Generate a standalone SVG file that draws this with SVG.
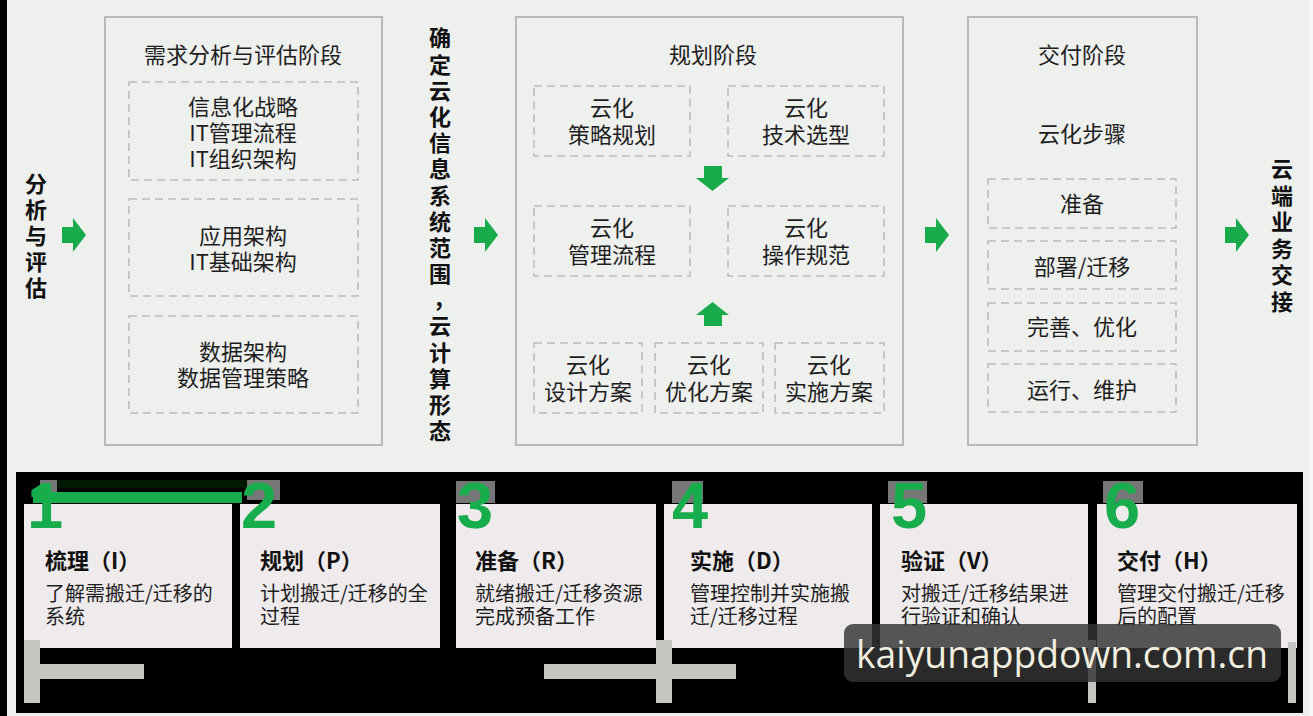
<svg xmlns="http://www.w3.org/2000/svg" width="1313" height="716" viewBox="0 0 1313 716">
<defs>
<style>
.t{font-family:"Noto Sans CJK SC","Noto Sans",sans-serif;fill:#1e1e1e;}
.c{text-anchor:middle;font-size:22px;}
.vt{font-family:"Noto Sans CJK SC","Noto Sans",sans-serif;font-size:22px;font-weight:bold;fill:#111;writing-mode:vertical-rl;}
.stage{fill:#eef0ee;stroke:#b9b9b9;stroke-width:2;}
.dash{fill:none;stroke:#bcbcbc;stroke-width:1.6;stroke-dasharray:8 5;}
.arr{fill:#19ab4b;}
.card{fill:#efebec;}
.ct{font-size:22px;font-weight:bold;fill:#111;}
.cd{font-size:20px;fill:#1e1e1e;}
.dig{font-family:"Liberation Sans",Arial,sans-serif;font-weight:bold;font-size:65px;fill:#17ad4d;text-anchor:middle;}
.gb{fill:#767676;}
.deco{fill:#c4c4c0;}
</style>
</defs>
<rect x="0" y="0" width="1313" height="716" fill="#edf0ed"/>
<rect x="0" y="0" width="7" height="716" fill="#000"/>
<rect x="1310" y="0" width="3" height="716" fill="#f6f7f7"/>

<!-- left label -->
<g id="label-analysis">
<text class="vt" x="36" y="173" style="letter-spacing:3.8px">分析与评估</text>
</g>

<!-- stage 1 -->
<g id="stage-analysis">
<rect class="stage" x="105" y="17" width="277" height="428"/>
<text class="t c" x="243" y="63">需求分析与评估阶段</text>
<rect class="dash" x="129" y="82" width="229" height="98"/>
<text class="t c" x="243" y="115">信息化战略</text>
<text class="t c" x="243" y="141">IT管理流程</text>
<text class="t c" x="243" y="167">IT组织架构</text>
<rect class="dash" x="129" y="199" width="229" height="97"/>
<text class="t c" x="243" y="244">应用架构</text>
<text class="t c" x="243" y="270">IT基础架构</text>
<rect class="dash" x="129" y="316" width="229" height="97"/>
<text class="t c" x="243" y="360">数据架构</text>
<text class="t c" x="243" y="386">数据管理策略</text>
</g>

<!-- middle label -->
<g id="label-scope">
<text class="vt" x="440" y="27" style="letter-spacing:4.2px">确定云化信息系统范围</text>
<text class="t" x="433" y="307" style="font-size:22px;font-weight:bold;fill:#111">，</text>
<text class="vt" x="440" y="315" style="letter-spacing:4.2px">云计算形态</text>
</g>

<!-- stage 2 -->
<g id="stage-planning">
<rect class="stage" x="516" y="17" width="387" height="428"/>
<text class="t c" x="713" y="63">规划阶段</text>
<rect class="dash" x="534" y="86" width="156" height="70"/>
<text class="t c" x="612" y="116">云化</text>
<text class="t c" x="612" y="143">策略规划</text>
<rect class="dash" x="728" y="86" width="156" height="70"/>
<text class="t c" x="806" y="116">云化</text>
<text class="t c" x="806" y="143">技术选型</text>
<rect class="dash" x="534" y="206" width="156" height="70"/>
<text class="t c" x="612" y="236">云化</text>
<text class="t c" x="612" y="263">管理流程</text>
<rect class="dash" x="728" y="206" width="156" height="70"/>
<text class="t c" x="806" y="236">云化</text>
<text class="t c" x="806" y="263">操作规范</text>
<rect class="dash" x="534" y="343" width="108" height="70"/>
<text class="t c" x="588" y="373">云化</text>
<text class="t c" x="588" y="400">设计方案</text>
<rect class="dash" x="655" y="343" width="108" height="70"/>
<text class="t c" x="709" y="373">云化</text>
<text class="t c" x="709" y="400">优化方案</text>
<rect class="dash" x="775" y="343" width="109" height="70"/>
<text class="t c" x="829" y="373">云化</text>
<text class="t c" x="829" y="400">实施方案</text>
</g>

<!-- stage 3 -->
<g id="stage-delivery">
<rect class="stage" x="968" y="17" width="229" height="428"/>
<text class="t c" x="1082" y="63">交付阶段</text>
<text class="t c" x="1082" y="142">云化步骤</text>
<rect class="dash" x="988" y="179" width="188" height="49"/>
<text class="t c" x="1082" y="212">准备</text>
<rect class="dash" x="988" y="241" width="188" height="48"/>
<text class="t c" x="1082" y="275">部署/迁移</text>
<rect class="dash" x="988" y="303" width="188" height="48"/>
<text class="t c" x="1082" y="335">完善、优化</text>
<rect class="dash" x="988" y="364" width="188" height="48"/>
<text class="t c" x="1082" y="398">运行、维护</text>
</g>

<!-- right label -->
<g id="label-handover">
<text class="vt" x="1282" y="158" style="letter-spacing:4.5px">云端业务交接</text>
</g>

<!-- connectors -->
<g id="connectors">
<path class="arr" d="M62,227 H73 V218 L86,235 L73,252 V243 H62 Z"/>
<path class="arr" d="M474,227 H485 V218 L498,235 L485,252 V243 H474 Z"/>
<path class="arr" d="M925,227 H936 V218 L949,235 L936,252 V243 H925 Z"/>
<path class="arr" d="M1225,227 H1236 V218 L1249,235 L1236,252 V243 H1225 Z"/>
<path class="arr" d="M704,166 H722 V178 H729 L712.5,191 L696,178 H704 Z"/>
<path class="arr" d="M712.5,302 L729,315 H722 V326 H704 V315 H696 Z"/>
</g>

<!-- bottom panel -->
<rect x="16" y="472" width="1287" height="241" fill="#000"/>

<g id="card-1">
<rect class="card" x="24" y="504" width="208" height="144"/>
<rect x="53" y="480" width="194" height="8" fill="#021a04"/>
<rect class="gb" x="40" y="480" width="17" height="12"/>
<rect x="33" y="492" width="209" height="11" fill="#17ad4d"/>
<text class="dig" x="45" y="528">1</text>
<text class="t ct" x="45" y="569">梳理（I）</text>
<text class="t cd" x="45" y="601">了解需搬迁/迁移的</text>
<text class="t cd" x="45" y="624">系统</text>
</g>
<g id="card-2">
<rect class="card" x="240" y="504" width="200" height="144"/>
<rect class="gb" x="247" y="480" width="33" height="20"/>
<text class="dig" x="259" y="528">2</text>
<text class="t ct" x="260" y="569">规划（P）</text>
<text class="t cd" x="260" y="601">计划搬迁/迁移的全</text>
<text class="t cd" x="260" y="624">过程</text>
</g>
<g id="card-3">
<rect class="card" x="456" y="504" width="200" height="144"/>
<rect class="gb" x="456" y="481" width="39" height="22"/>
<text class="dig" x="475" y="528">3</text>
<text class="t ct" x="475" y="569">准备（R）</text>
<text class="t cd" x="475" y="601">就绪搬迁/迁移资源</text>
<text class="t cd" x="475" y="624">完成预备工作</text>
</g>
<g id="card-4">
<rect class="card" x="664" y="504" width="208" height="144"/>
<rect class="gb" x="672" y="481" width="31" height="22"/>
<text class="dig" x="690" y="528">4</text>
<text class="t ct" x="690" y="569">实施（D）</text>
<text class="t cd" x="690" y="601">管理控制并实施搬</text>
<text class="t cd" x="690" y="624">迁/迁移过程</text>
</g>
<g id="card-5">
<rect class="card" x="880" y="504" width="208" height="144"/>
<rect class="gb" x="888" y="481" width="39" height="22"/>
<text class="dig" x="909" y="528">5</text>
<text class="t ct" x="901" y="569">验证（V）</text>
<text class="t cd" x="901" y="601">对搬迁/迁移结果进</text>
<text class="t cd" x="901" y="624">行验证和确认</text>
</g>
<g id="card-6">
<rect class="card" x="1097" y="504" width="200" height="144"/>
<rect class="gb" x="1103" y="481" width="40" height="22"/>
<text class="dig" x="1122" y="528">6</text>
<text class="t ct" x="1117" y="569">交付（H）</text>
<text class="t cd" x="1117" y="601">管理交付搬迁/迁移</text>
<text class="t cd" x="1117" y="624">后的配置</text>
</g>

<!-- decorative bars -->
<rect class="deco" x="24" y="640" width="16" height="63"/>
<rect class="deco" x="24" y="664" width="120" height="15"/>
<rect class="deco" x="544" y="664" width="192" height="15"/>
<rect class="deco" x="656" y="640" width="16" height="63"/>
<rect class="deco" x="1088" y="640" width="8" height="63"/>
<rect class="deco" x="1288" y="642" width="8" height="61"/>

<!-- watermark -->
<g id="watermark">
<rect x="844" y="624" width="437" height="58" rx="9" fill="#333" fill-opacity="0.82"/>
<text x="856" y="668" textLength="412" lengthAdjust="spacingAndGlyphs" style="font-family:'Open Sans','Noto Sans',sans-serif;font-size:38px;fill:#f1eedf">kaiyunappdown.com.cn</text>
</g>
</svg>
